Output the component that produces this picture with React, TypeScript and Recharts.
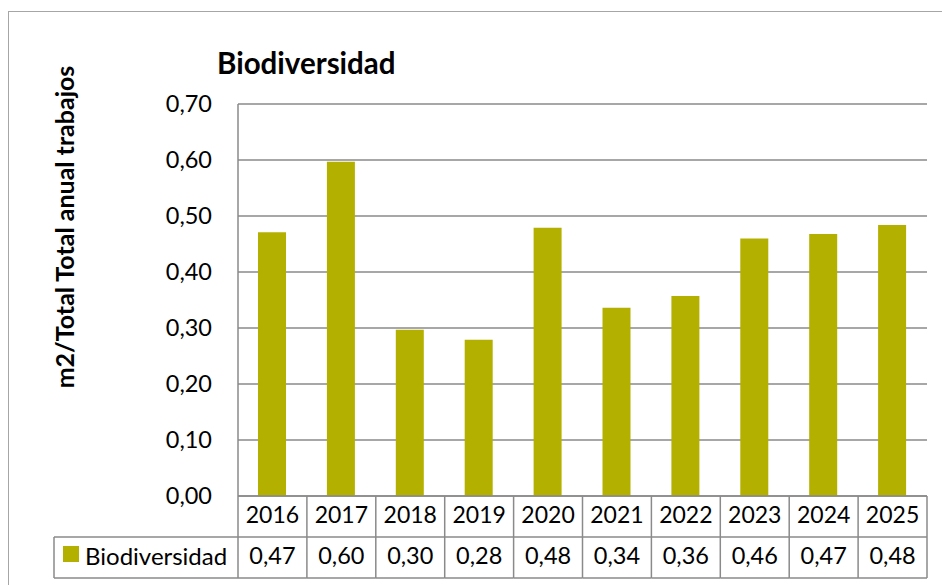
import React from 'react';
import { BarChart, Bar, XAxis, YAxis, CartesianGrid } from 'recharts';

const years = ['2016', '2017', '2018', '2019', '2020', '2021', '2022', '2023', '2024', '2025'];
const biodiversidad = [0.471, 0.597, 0.297, 0.279, 0.479, 0.336, 0.357, 0.46, 0.468, 0.484];
const yTicks = [0, 0.1, 0.2, 0.3, 0.4, 0.5, 0.6, 0.7];

const seriesName = 'Biodiversidad';
const title = 'Biodiversidad';
const yLabel = 'm2/Total Total anual trabajos';

const W = 942;
const H = 585;
const M = { top: 104, right: 15, bottom: 0, left: 0 };
const Y_AXIS_W = 238;
const X_AXIS_H = 89;
const ROW_H = 41;
const LEGEND_LEFT = 54;

const BAR = '#B4B000';
const LINE = '#8a8a8a';
const FONT = 'Lato, "Noto Sans", sans-serif';

const fmt = (v: number) => v.toFixed(2).replace('.', ',');

const data = years.map((year, i) => ({ year, value: biodiversidad[i] }));

const cellW = (W - M.right - Y_AXIS_W) / years.length;

// draws the data table under the plot (one column per category)
const TableTick = (props: any) => {
  const { x, y, payload } = props;
  const i = payload.index;
  const left = x - cellW / 2;
  const right = x + cellW / 2;
  const r1 = y + ROW_H;
  const r2 = y + ROW_H * 2;
  return (
    <g>
      {i === 0 && (
        <g>
          <line x1={left} y1={y} x2={left} y2={r2} stroke={LINE} strokeWidth={1.5} />
          <line x1={LEGEND_LEFT} y1={r1} x2={left} y2={r1} stroke={LINE} strokeWidth={1.5} />
          <line x1={LEGEND_LEFT} y1={r2} x2={left} y2={r2} stroke={LINE} strokeWidth={1.5} />
          <line x1={LEGEND_LEFT} y1={r1} x2={LEGEND_LEFT} y2={r2} stroke={LINE} strokeWidth={1.5} />
          <rect x={63} y={r1 + 9} width={16} height={16} fill={BAR} />
          <text x={85} y={r1 + ROW_H / 2 + 1} dominantBaseline="middle" fontSize={24} fill="#000" fontFamily={FONT}>
            {seriesName}
          </text>
        </g>
      )}
      <line x1={right} y1={y} x2={right} y2={r2} stroke={LINE} strokeWidth={1.5} />
      <line x1={left} y1={r1} x2={right} y2={r1} stroke={LINE} strokeWidth={1.5} />
      <line x1={left} y1={r2} x2={right} y2={r2} stroke={LINE} strokeWidth={1.5} />
      <text x={x} y={y + ROW_H / 2 + 1} textAnchor="middle" dominantBaseline="middle" fontSize={23} fill="#000" fontFamily={FONT}>
        {payload.value}
      </text>
      <text x={x} y={r1 + ROW_H / 2 + 1} textAnchor="middle" dominantBaseline="middle" fontSize={23.5} fill="#000" fontFamily={FONT}>
        {fmt(biodiversidad[i])}
      </text>
    </g>
  );
};

export default function App() {
  return (
    <div style={{ position: 'absolute', left: 0, top: 0, width: W, height: H, overflow: 'hidden', background: '#fff', fontFamily: FONT }}>
      <div
        style={{
          position: 'absolute',
          left: 8,
          top: 11,
          width: W + 20,
          height: H + 20,
          border: '1.5px solid #a6a6a6',
        }}
      />
      <div
        style={{
          position: 'absolute',
          left: 217,
          top: 45,
          fontSize: 29.5,
          fontWeight: 700,
          color: '#000',
          whiteSpace: 'nowrap',
          lineHeight: '36px',
        }}
      >
        {title}
      </div>
      <div
        style={{
          position: 'absolute',
          left: 64,
          top: 227,
          transform: 'translate(-50%, -50%) rotate(-90deg)',
          fontSize: 25,
          fontWeight: 700,
          color: '#000',
          whiteSpace: 'nowrap',
          lineHeight: '30px',
        }}
      >
        {yLabel}
      </div>
      <div style={{ position: 'absolute', left: 0, top: 0 }}>
        <BarChart width={W} height={H} data={data} margin={M} barCategoryGap={0}>
          <CartesianGrid horizontal vertical={false} stroke={LINE} strokeWidth={1.5} />
          <XAxis
            dataKey="year"
            height={X_AXIS_H}
            axisLine={{ stroke: LINE, strokeWidth: 1.5 }}
            tickLine={false}
            tickSize={0}
            tickMargin={0}
            interval={0}
            tick={<TableTick />}
          />
          <YAxis
            width={Y_AXIS_W}
            domain={[0, 0.7]}
            ticks={yTicks}
            tickFormatter={fmt}
            axisLine={{ stroke: LINE, strokeWidth: 1.5 }}
            tickLine={false}
            tickSize={0}
            tickMargin={26}
            tick={{ fontSize: 23.5, fill: '#000', fontFamily: FONT }}
          />
          <Bar dataKey="value" name={seriesName} fill={BAR} barSize={28} isAnimationActive={false} />
        </BarChart>
      </div>
    </div>
  );
}
